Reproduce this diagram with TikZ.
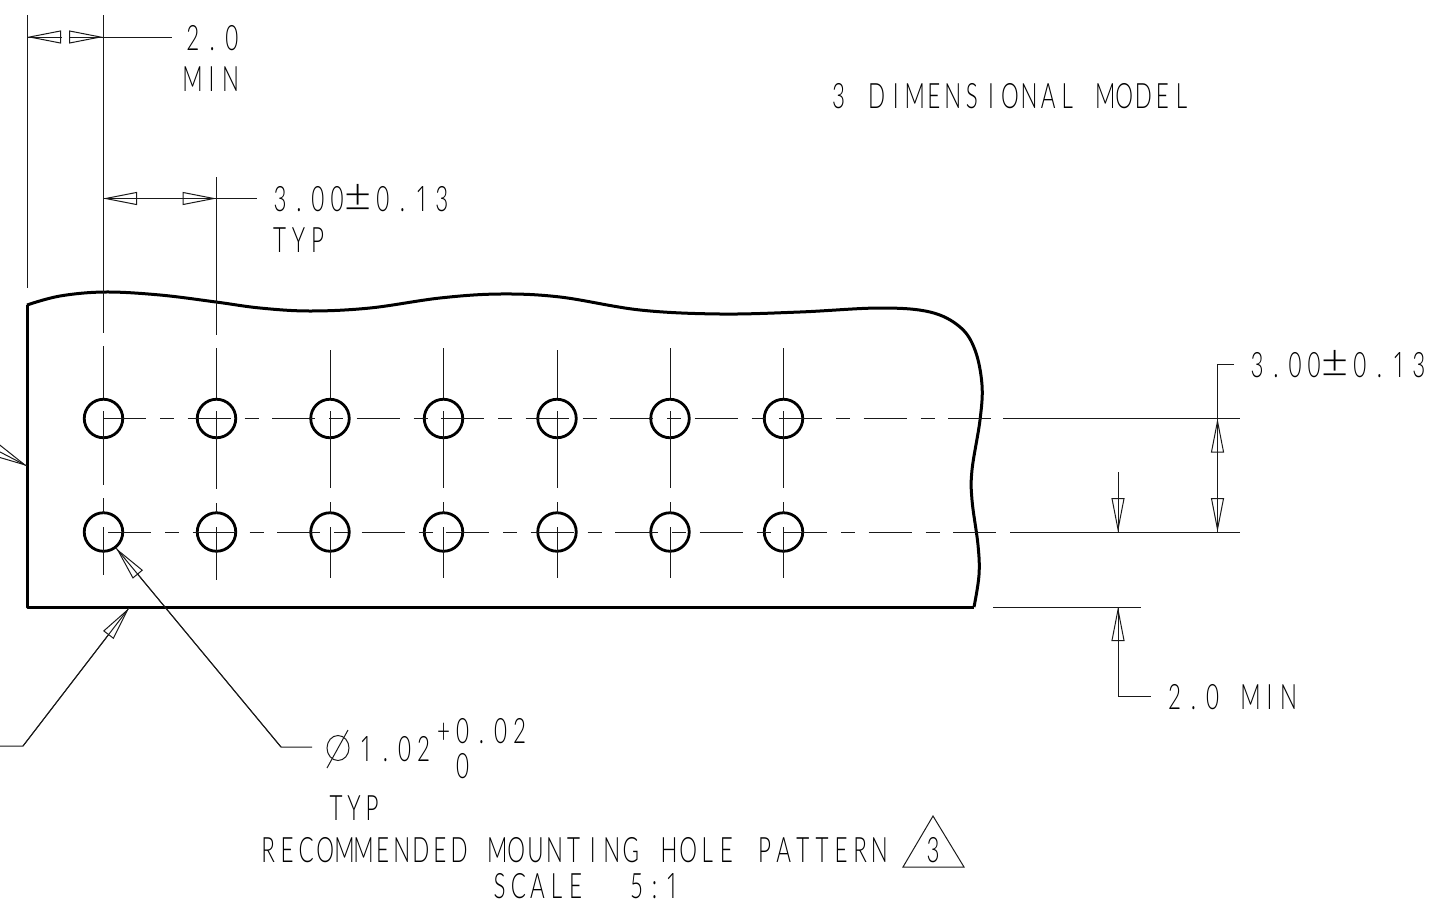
\documentclass[tikz,border=0pt]{standalone}
\usepackage{fontspec}
\usetikzlibrary{arrows.meta}
\newfontfamily\cadf[UprightFont=* Light,FakeStretch=0.64]{Lato}
\newfontfamily\cadone[UprightFont=* Light,FakeStretch=0.68]{Open Sans}
\newfontfamily\cadpm[UprightFont=* Light]{Lato}
\ExplSyntaxOn
\NewDocumentCommand\cadtext{O{19}m}{
  \str_map_inline:nn {#2} {
    \makebox[#1pt][c]{ \str_if_eq:nnTF {##1} {1} {{\cadone 1}} {##1} }
  }
}
\ExplSyntaxOff
\tikzset{
  thinl/.style={line width=1pt,black!90},
  outline/.style={line width=3pt,black,line join=round},
  hole/.style={circle,draw,line width=2.8pt,minimum size=38.5pt,inner sep=0pt},
  cad/.style={inner sep=0pt,outer sep=0pt,anchor=base west,font=\cadf\fontsize{35}{35}\selectfont,text=black},
  pmsign/.style={inner sep=0pt,outer sep=0pt,anchor=base,font=\cadpm\fontsize{47}{47}\selectfont,text=black},
  opn/.tip={Triangle[open,length=34pt,width=13pt,fill=white]},
  centerl/.style={thinl,dash pattern=on 43pt off 14pt on 14pt off 13.5pt},
}
\begin{document}
\begin{tikzpicture}[x=1pt,y=-1pt]
\useasboundingbox (0,0) rectangle (1440,908);
% outline
\draw[outline] plot[smooth,tension=0.6] coordinates {(27,305) (60,296) (105,292) (160,295) (216,302) (260,308) (310,311) (370,308) (440,298) (500,294) (560,297) (640,310) (720,314) (800,312) (880,308) (930,312) (960,327) (975,350) (982,385) (980,420) (972,470) (972,500) (978,545) (979,575) (974,607)};
\draw[outline] (27,305) -- (27,607) -- (974,607);
% holes
\foreach \n/\x/\ts/\te/\bs/\be in {1/103.5/346/485/498/575,2/216.5/348/489/503/580,3/330/350/488/502/578,4/443.5/348/488/502/578,5/557/350/488/502/578,6/670/348/488/502/578,7/783.5/348/488/502/578}{
  \node[hole] (t\n) at (\x,418.5) {};
  \node[hole] (b\n) at (\x,532) {};
  \draw[thinl] (\x,\ts) -- (\x,398);
  \draw[thinl] (\x,411) -- (\x,\te);
  \draw[thinl] (\x,\bs) -- (\x,514);
  \draw[thinl] (\x,527) -- (\x,\be);
}
% centre lines
\coordinate (rowAs) at (103,418.5); \coordinate (rowAe) at (991,418.5);
\coordinate (rowBs) at (108,532); \coordinate (rowBe) at (999,532);
\draw[centerl] (rowAs) -- (rowAe);
\draw[centerl] (rowBs) -- (rowBe);
% extension lines
\coordinate (eA1) at (1003,418.5); \coordinate (eA2) at (1240,418.5);
\coordinate (eB1) at (1010,532); \coordinate (eB2) at (1240,532);
\coordinate (eC1) at (993,607); \coordinate (eC2) at (1141,607);
\draw[thinl] (eA1) -- (eA2);
\draw[thinl] (eB1) -- (eB2);
\draw[thinl] (eC1) -- (eC2);
\coordinate (v1a) at (27,15); \coordinate (v1b) at (27,288);
\coordinate (v2a) at (103,15); \coordinate (v2b) at (103,333);
\coordinate (v3a) at (216.5,177); \coordinate (v3b) at (216.5,335);
\draw[thinl] (v1a) -- (v1b);
\draw[thinl] (v2a) -- (v2b);
\draw[thinl] (v3a) -- (v3b);
% top 2.0 MIN
\coordinate (a1) at (27,37); \coordinate (a1b) at (61,37);
\coordinate (a2) at (103,37); \coordinate (a2b) at (69,37); \coordinate (a2e) at (172,37);
\draw[thinl,-opn] (a1b) -- (a1); \draw[thinl] (a1b) -- (a1);
\draw[thinl,-opn] (a2b) -- (a2); \draw[thinl] (a2b) -- (a2e);
% top 3.00
\coordinate (c1) at (103,198.5); \coordinate (c2) at (216.5,198.5); \coordinate (c3) at (257,198.5);
\draw[thinl,opn-opn] (c1) -- (c2); \draw[thinl] (c1) -- (c3);
% right 3.00
\coordinate (d0) at (1234,364); \coordinate (d1) at (1217.5,364); \coordinate (d2) at (1217.5,418.5); \coordinate (d3) at (1217.5,532);
\draw[thinl,opn-opn] (d2) -- (d3); \draw[thinl] (d0) -- (d1) -- (d3);
% small down arrow
\coordinate (f1) at (1118,472); \coordinate (f2) at (1118,532);
\draw[thinl,-opn] (f1) -- (f2); \draw[thinl] (f1) -- (f2);
% 2.0 MIN right
\coordinate (g1) at (1118,607); \coordinate (g2) at (1118,696); \coordinate (g3) at (1151,696);
\draw[thinl,opn-] (g1) -- (g2); \draw[thinl] (g1) -- (g2) -- (g3);
% left leader
\coordinate (l1) at (27,466); \coordinate (l2) at (-50,426);
\draw[thinl,opn-] (l1) -- (l2); \draw[thinl] (l1) -- (l2);
% bottom leader
\coordinate (m1) at (129,608); \coordinate (m2) at (23,746); \coordinate (m3) at (-5,746);
\draw[thinl,opn-] (m1) -- (m2); \draw[thinl] (m1) -- (m2) -- (m3);
% hole leader
\coordinate (n2) at (281,747); \coordinate (n3) at (312,747);
\draw[thinl,opn-] (b1.-52) -- (n2); \draw[thinl] (b1.-52) -- (n2) -- (n3);
% texts
\node[cad] (t20) at (183,50) {\cadtext[19.5]{2.0}};
\node[cad] (tmin) at (183,91) {\cadtext[19]{MIN}};
\node[cad] (t300a) at (270.5,211) {\cadtext[19]{3.00}};
\node[pmsign] (t300p) at (358,211) {±};
\node[cad] (t300b) at (373,211) {\cadtext[19.7]{0.13}};
\node[cad] (ttyp) at (270,252) {\cadtext[19]{TYP}};
\node[cad] (t3d) at (829,108) {\cadtext[19.05]{3 DIMENSIONAL MODEL}};
\node[cad] (t300ra) at (1247.5,377) {\cadtext[19]{3.00}};
\node[pmsign] (t300rp) at (1335,377) {±};
\node[cad] (t300rb) at (1350,377) {\cadtext[19.7]{0.13}};
\node[cad] (t20m) at (1165,709) {\cadtext[19]{2.0 MIN}};
\node[cad] (tdia) at (357,761) {\cadtext[19]{1.02}};
\node[cad] (tplus) at (434,743) {\cadtext[19]{+0.02}};
\node[cad] (tzero) at (453,778) {\cadtext[19]{0}};
\node[cad] (ttyp2) at (327,820) {\cadtext[18]{TYP}};
\node[cad] (trec) at (258.5,862) {\cadtext[19.1]{RECOMMENDED MOUNTING HOLE PATTERN}};
\node[cad] (tsc) at (490,898) {\cadtext[19]{SCALE}};
\node[cad] (tsc2) at (627.5,898) {\cadtext[18]{5:1}};
% diameter symbol
\draw[thinl] (338,748) ellipse [x radius=11,y radius=12.5];
\coordinate (s1) at (327,768); \coordinate (s2) at (348,730);
\draw[thinl] (s1) -- (s2);
% triangle
\coordinate (q1) at (933,816); \coordinate (q2) at (903,867); \coordinate (q3) at (964,867);
\draw[thinl] (q1) -- (q2) -- (q3) -- cycle;
\node[inner sep=0pt,font=\cadf\fontsize{35}{35}\selectfont] (q3t) at (933,850) {3};
\end{tikzpicture}
\end{document}
